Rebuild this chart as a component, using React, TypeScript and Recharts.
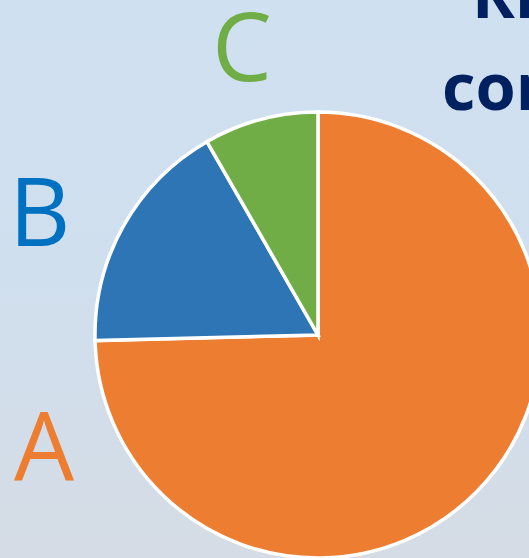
import { Cell, Pie, PieChart } from "recharts";

const categories = ["A", "B", "C"];
const shares = [74.6, 17.1, 8.3];
const sliceColors = ["#ED7D31", "#2E75B6", "#70AD47"];
const labelColors = ["#ED7D31", "#0070C0", "#70AD47"];
const titleLines = ["Risk", "contribution"];

const data = categories.map((name, i) => ({ name, value: shares[i] }));

// label anchors (left, baseline) for the big letters beside the pie
const labelPos = [
  { x: 14, y: 481 },
  { x: 9, y: 246 },
  { x: 212, y: 81 },
];

export default function App() {
  return (
    <div
      style={{
        position: "absolute",
        left: 0,
        top: 0,
        width: 529,
        height: 558,
        overflow: "hidden",
        background: "linear-gradient(to bottom, #cfe0f0 0%, #d0dfee 50%, #d5dce5 100%)",
      }}
    >
      <PieChart
        width={529}
        height={558}
        margin={{ top: 0, right: 0, bottom: 0, left: 0 }}
        style={{ position: "absolute", left: 0, top: 0 }}
      >
        <Pie
          data={data}
          dataKey="value"
          nameKey="name"
          cx={318}
          cy={335}
          outerRadius={223}
          startAngle={90}
          endAngle={-270}
          stroke="#ffffff"
          strokeWidth={3.5}
          isAnimationActive={false}
        >
          {data.map((d, i) => (
            <Cell key={d.name} fill={sliceColors[i]} />
          ))}
        </Pie>
      </PieChart>
      <svg width={529} height={558} style={{ position: "absolute", left: 0, top: 0 }}>
        {categories.map((c, i) => (
          <text
            key={c}
            x={labelPos[i].x}
            y={labelPos[i].y}
            fill={labelColors[i]}
            fontFamily="'Open Sans', sans-serif"
            fontSize={95}
          >
            {c}
          </text>
        ))}
        <text x={472} y={18} fill="#002060" fontFamily="'Open Sans', sans-serif" fontWeight={700} fontSize={65}>
          {titleLines[0]}
        </text>
        <text x={442} y={110} fill="#002060" fontFamily="'Open Sans', sans-serif" fontWeight={700} fontSize={65}>
          {titleLines[1]}
        </text>
      </svg>
    </div>
  );
}
